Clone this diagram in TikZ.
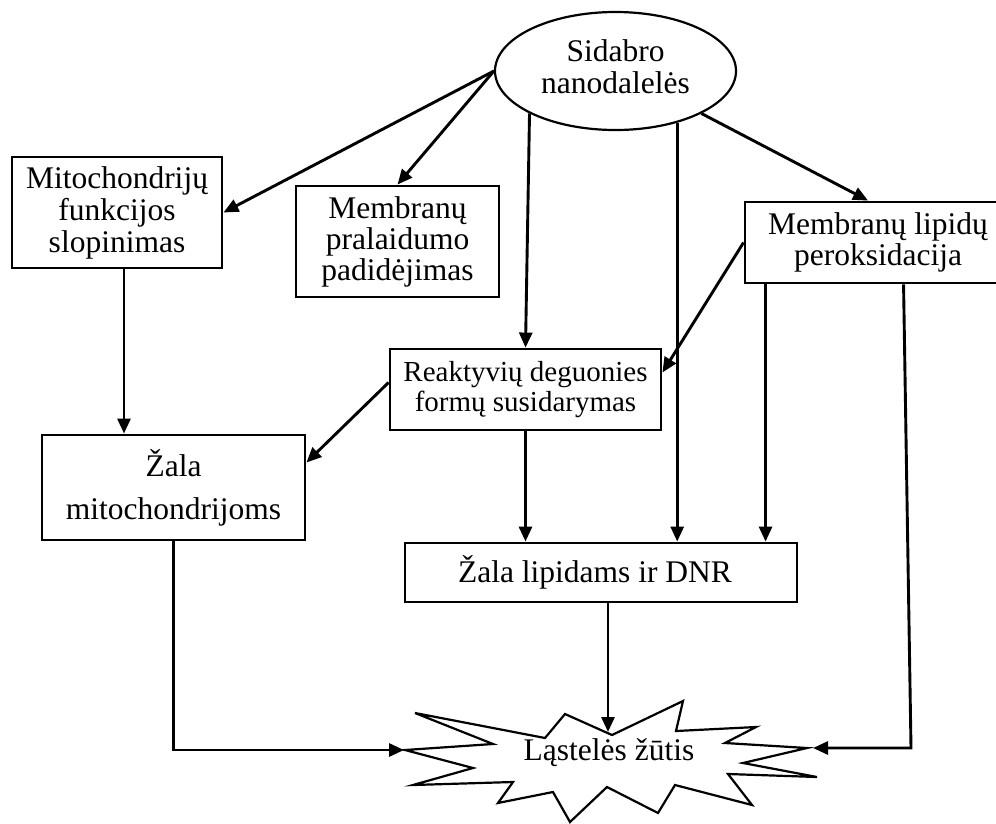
\documentclass[tikz,border=0pt]{standalone}
\usepackage{fontspec}
\setmainfont{Liberation Serif}
\usetikzlibrary{arrows.meta,shapes.geometric,calc}

\begin{document}
\begin{tikzpicture}[x=1pt,y=-1pt,
  txt/.style={font=\fontsize{31.5}{32}\selectfont},
  box/.style={draw,line width=2.9pt,rectangle,align=center,inner sep=0pt,txt},
  arr/.style={line width=2.9pt,-{Triangle[length=15pt,width=13pt]}},
  burst/.style={draw,line width=2.2pt,line join=miter}]

\useasboundingbox (0,0) rectangle (996,823);

% source
\node[draw,ellipse,line width=2.2pt,inner sep=0pt,minimum width=241,minimum height=118,
      label={[txt,align=center,yshift=4]center:{Sidabro\\nanodalelės}}] (sid) at (615.5,71) {};

% first-level effects
\node[box,minimum width=210,minimum height=111] (mito) at (117,212.5)
  {Mitochondrijų\\funkcijos\\slopinimas};
\node[box,minimum width=203,minimum height=111,font=\fontsize{31.5}{31}\selectfont] (perm) at (397.5,241.5)
  {Membranų\\pralaidumo\\padidėjimas};
\node[box,minimum width=266,minimum height=81,font=\fontsize{31.5}{31}\selectfont] (lip) at (878,242.5)
  {Membranų lipidų\\peroksidacija};
\node[box,minimum width=271,minimum height=81,font=\fontsize{29}{30}\selectfont] (ros) at (525.5,389.5)
  {Reaktyvių deguonies\\formų susidarymas};

% damage
\node[box,minimum width=263,minimum height=105,font=\fontsize{31.5}{43}\selectfont] (zmito) at (173.5,487.5)
  {Žala\\mitochondrijoms};
\node[box,minimum width=392,minimum height=59,
      label={[txt,xshift=-6]center:Žala lipidams ir DNR}] (zlip) at (601,572.5) {};

% outcome
\draw[burst] (405,750) -- (493,744) -- (415,713) -- (545,738) -- (565,714) -- (612,735)
  -- (683,701) -- (676,731) -- (756,727) -- (725,743) -- (807,748) -- (743,763)
  -- (817,777) -- (728,774) -- (752,805) -- (675,785) -- (658,813) -- (607,787)
  -- (570,822) -- (553,792) -- (498,803) -- (513,782) -- (413,785) -- (473,768) -- cycle;
\node[txt] (death) at (609,753) {Ląstelės žūtis};
\coordinate (deathW) at (404,750);
\coordinate (deathN) at (608,732);
\coordinate (deathE) at (813,748);
\coordinate (rc) at (911,748);

% connectors
\draw[arr] (sid.west) -- (mito.east);
\draw[arr] (sid.west) -- (perm.north);
\draw[arr] (sid.south west) -- (ros.north);
\draw[arr] (sid.-40) -- (sid.-40 |- zlip.north);
\draw[arr] (sid.south east) -- ([xshift=-10]lip.north);
\draw[arr] ([xshift=7]mito.south) -- ([xshift=7]mito.south |- zmito.north);
\draw[arr] ([yshift=7]ros.west) -- ([yshift=25]zmito.east);
\draw[arr] (lip.west) -- ([yshift=17]ros.east);
\draw[arr] (ros.south) -- (ros.south |- zlip.north);
\draw[arr] ([xshift=22]lip.south west) -- ([xshift=22]lip.south west |- zlip.north);
\draw[arr] ([xshift=160]lip.south west) -- (rc) -- (deathE);
\draw[arr] (zmito.south) |- (deathW);
\draw[arr] ([xshift=7]zlip.south) -- (deathN);
\end{tikzpicture}
\end{document}
